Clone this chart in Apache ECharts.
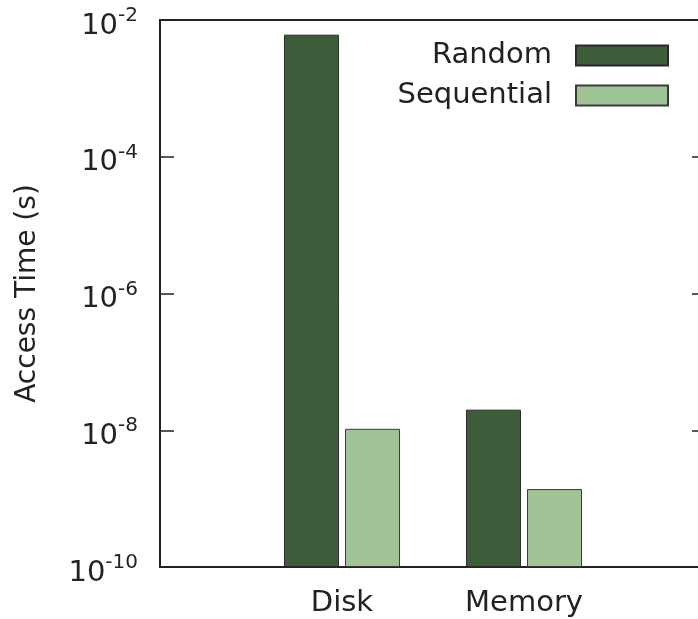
<!DOCTYPE html>
<html>
<head>
<meta charset="utf-8">
<script src="https://cdn.jsdelivr.net/npm/echarts@6/dist/echarts.min.js"></script>
<style>
  html, body { margin: 0; padding: 0; background: #fff; }
  #chart { width: 698px; height: 619px; }
</style>
</head>
<body>
<div id="chart"></div>
<script>
// ---- data ----
const categories = ['Disk', 'Memory'];
const seriesNames = ['Random', 'Sequential'];
const randomValues = [6.1e-3, 2.0e-8];
const sequentialValues = [1.05e-8, 1.38e-9];
const tickExponents = [-10, -8, -6, -4, -2];
const yTitle = 'Access Time (s)';

// ---- chart ----
const FONT = 'DejaVu Sans';
const TXT = '#222';
const axisCats = [''].concat(categories, ['']);
const pad = arr => [null].concat(arr, [null]);
const yMin = Math.pow(10, tickExponents[0]);
const yMax = Math.pow(10, tickExponents[tickExponents.length - 1]);

const chart = echarts.init(document.getElementById('chart'), null, { renderer: 'canvas' });

function expLabel(v) {
  const e = Math.round(Math.log10(v));
  return '{b|10}{s|' + e + '}';
}

const yBase = {
  type: 'log',
  logBase: 100,
  min: yMin,
  max: yMax,
  startValue: yMin,
  splitLine: { show: false },
  axisLine: { show: true, lineStyle: { color: TXT, width: 2 } },
  axisTick: { show: true, inside: true, length: 14, lineStyle: { color: TXT, width: 1.5 } }
};

chart.setOption({
  animation: false,
  backgroundColor: '#fff',
  textStyle: { fontFamily: FONT },
  grid: {
    left: 160, width: 546, top: 20, bottom: 52,
    containLabel: false,
    outerBoundsMode: 'none',
    show: true, borderColor: TXT, borderWidth: 2, backgroundColor: 'transparent'
  },
  legend: {
    orient: 'vertical',
    align: 'right',
    right: 24,
    top: 36,
    icon: 'rect',
    itemWidth: 92,
    itemHeight: 20,
    itemGap: 11,
    selectedMode: false,
    textStyle: { fontFamily: FONT, fontSize: 29, color: TXT, padding: [0, 19, 0, 0] },
    data: seriesNames
  },
  xAxis: {
    type: 'category',
    data: axisCats,
    boundaryGap: false,
    axisLine: { show: true, lineStyle: { color: TXT, width: 2 } },
    axisTick: { show: false },
    axisLabel: { fontFamily: FONT, fontSize: 29, color: TXT, margin: 22 },
    splitLine: { show: false }
  },
  yAxis: [
    Object.assign({}, yBase, {
      position: 'left',
      name: yTitle,
      nameLocation: 'middle',
      nameGap: 118,
      nameTextStyle: { fontFamily: FONT, fontSize: 28, color: TXT },
      axisLabel: {
        margin: 22,
        formatter: expLabel,
        rich: {
          b: { fontFamily: FONT, fontSize: 29, color: TXT, padding: [12, 0, 0, 0] },
          s: { fontFamily: FONT, fontSize: 20, color: TXT, padding: [0, 0, 8, 0] }
        }
      }
    }),
    Object.assign({}, yBase, {
      position: 'right',
      axisLabel: { show: false }
    })
  ],
  series: [
    {
      name: seriesNames[0],
      type: 'bar',
      data: pad(randomValues),
      barWidth: 55,
      barGap: '11%',
      itemStyle: { color: '#3d5c3a', borderColor: '#2a2a2a', borderWidth: 1 }
    },
    {
      name: seriesNames[1],
      type: 'bar',
      data: pad(sequentialValues),
      barWidth: 55,
      barGap: '11%',
      itemStyle: { color: '#a0c398', borderColor: '#3a3a3a', borderWidth: 1 }
    }
  ]
});
</script>
</body>
</html>
